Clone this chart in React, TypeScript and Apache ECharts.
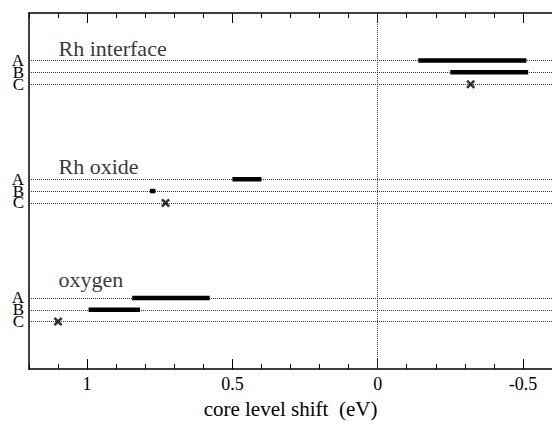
import React, { useEffect, useRef } from "react";
import * as echarts from "echarts";

// Horizontal reference rows (y level) and their letters
const lineLevels = [26, 25, 24, 16, 15, 14, 6, 5, 4];
const lineLetters = ["A", "B", "C", "A", "B", "C", "A", "B", "C"];

// Group titles
const groupNames = ["Rh interface", "Rh oxide", "oxygen"];
const groupLabelX = [1.1, 1.1, 1.1];
const groupLabelLevel = [27.0, 17.1, 7.55];

// Thick bars: range of core level shift (eV) at a row level
const barFrom = [-0.14, -0.25, 0.5, 0.784, 0.845, 0.995];
const barTo = [-0.512, -0.518, 0.4, 0.765, 0.578, 0.818];
const barLevel = [26, 25, 16, 15, 6, 5];

// Cross markers
const crossX = [-0.32, 0.73, 1.1];
const crossLevel = [24, 14, 4];

// Tick values
const majorTicks = [1, 0.5, 0, -0.5];
const minorTicks = [1.2, 1.1, 1, 0.9, 0.8, 0.7, 0.6, 0.5, 0.4, 0.3, 0.2, 0.1, 0, -0.1, -0.2, -0.3, -0.4, -0.5, -0.6];

const FONT = "Liberation Serif";

export default function App() {
  const ref = useRef<HTMLDivElement>(null);
  useEffect(() => {
    if (!ref.current) return;
    const chart = echarts.init(ref.current, undefined, { renderer: "svg" });
    const axisLineStyle = { color: "#000", width: 1.5 };
    const baseX = {
      type: "value" as const,
      min: -0.6,
      max: 1.2,
      inverse: true,
      splitLine: { show: false },
    };
    const barData = barFrom.map((f, i) => [f, barTo[i], barLevel[i]]);
    const crossData = crossX.map((x, i) => [x, crossLevel[i]]);
    const labelData = groupNames.map((n, i) => [groupLabelX[i], groupLabelLevel[i], n]);
    const rowLines = lineLevels.map((v, i) => ({
      yAxis: v,
      label: {
        show: true,
        position: "end",
        distance: 5,
        formatter: lineLetters[i],
        fontSize: 17,
        lineHeight: 12,
        fontFamily: FONT,
        color: "#000",
      },
    }));
    chart.setOption({
      animation: false,
      backgroundColor: "#fff",
      textStyle: { fontFamily: FONT },
      grid: { left: 29, top: 13, width: 526, height: 367, containLabel: false },
      xAxis: [
        {
          ...baseX,
          position: "bottom",
          axisLine: { show: true, onZero: false, lineStyle: axisLineStyle },
          axisTick: { show: true, inside: true, length: 10, customValues: majorTicks, lineStyle: { color: "#000", width: 1 } },
          axisLabel: {
            show: true,
            customValues: majorTicks,
            formatter: (v: number) => String(v),
            fontSize: 18,
            fontFamily: FONT,
            color: "#000",
            margin: 6,
          },
          name: "core level shift  (eV)",
          nameLocation: "middle",
          nameGap: 20,
          nameTextStyle: { fontSize: 21, fontFamily: FONT, color: "#000" },
        },
        {
          ...baseX,
          position: "bottom",
          axisLine: { show: false, onZero: false },
          axisTick: { show: true, inside: true, length: 5, customValues: minorTicks, lineStyle: { color: "#000", width: 1 } },
          axisLabel: { show: false },
        },
        {
          ...baseX,
          position: "top",
          axisLine: { show: true, onZero: false, lineStyle: axisLineStyle },
          axisTick: { show: true, inside: true, length: 10, customValues: majorTicks, lineStyle: { color: "#000", width: 1 } },
          axisLabel: { show: false },
        },
        {
          ...baseX,
          position: "top",
          axisLine: { show: false, onZero: false },
          axisTick: { show: true, inside: true, length: 5, customValues: minorTicks, lineStyle: { color: "#000", width: 1 } },
          axisLabel: { show: false },
        },
      ],
      yAxis: {
        type: "value",
        min: 0,
        max: 30,
        position: "left",
        axisLine: { show: true, onZero: false, lineStyle: axisLineStyle },
        axisTick: { show: false },
        splitLine: { show: false },
        axisLabel: { show: false },
      },
      series: [
        {
          type: "scatter",
          xAxisIndex: 0,
          data: labelData,
          symbolSize: 1,
          itemStyle: { color: "transparent" },
          silent: true,
          z: 1,
          label: {
            show: true,
            position: "right",
            distance: 0,
            formatter: (p: any) => p.data[2],
            fontSize: 22,
            fontFamily: FONT,
            color: "#000",
          },
          markLine: {
            silent: true,
            symbol: "none",
            lineStyle: { type: "dotted", color: "#333", width: 1 },
            data: [...rowLines, { xAxis: 0, label: { show: false } }],
          },
        },
        {
          type: "custom",
          xAxisIndex: 0,
          data: barData,
          encode: { x: [0, 1], y: 2 },
          z: 5,
          renderItem: (params: any, api: any) => {
            const p1 = api.coord([api.value(0), api.value(2)]);
            const p2 = api.coord([api.value(1), api.value(2)]);
            const h = 4.5;
            return {
              type: "rect",
              shape: {
                x: Math.min(p1[0], p2[0]),
                y: p1[1] - h / 2,
                width: Math.abs(p2[0] - p1[0]),
                height: h,
              },
              style: { fill: "#000" },
            };
          },
        },
        {
          type: "scatter",
          xAxisIndex: 0,
          data: crossData,
          symbol: "path://M0,2L2,0L5,3L8,0L10,2L7,5L10,8L8,10L5,7L2,10L0,8L3,5Z",
          symbolSize: 9,
          itemStyle: { color: "#000" },
          z: 6,
        },
      ],
    });
    return () => chart.dispose();
  }, []);
  return (
    <div
      ref={ref}
      style={{ position: "fixed", left: 0, top: 0, width: 552, height: 424, background: "#fff" }}
    />
  );
}
